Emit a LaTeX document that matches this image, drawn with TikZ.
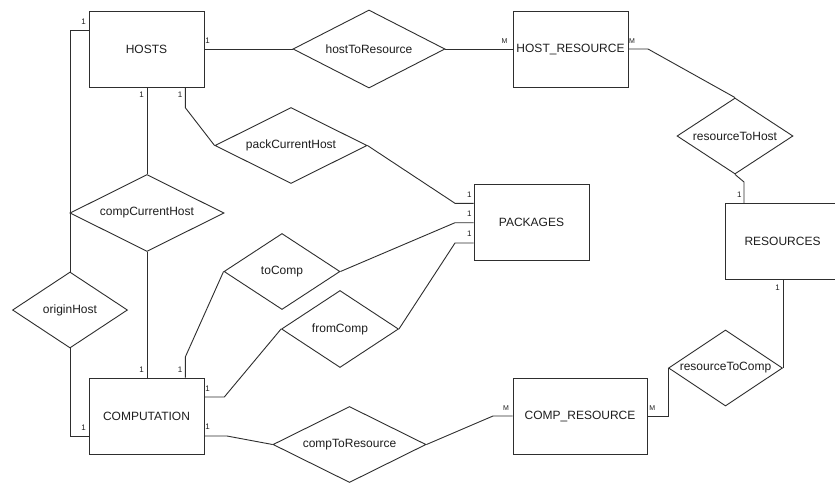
\documentclass[tikz,border=0pt]{standalone}
\usepackage{fontspec}
\setmainfont{Liberation Sans}
\usetikzlibrary{shapes.geometric}
\definecolor{linec}{HTML}{2E2E2E}
\definecolor{textc}{HTML}{1E1E1E}
\begin{document}
\begin{tikzpicture}[x=1pt,y=-1pt,
  ent/.style={draw=linec, line width=0.9pt, rectangle, inner sep=0pt, minimum width=115pt, minimum height=76pt, text=textc, font=\fontsize{12}{14}\selectfont},
  rel/.style={draw=linec, line width=0.9pt, diamond, inner sep=0pt, label={[text=textc, font=\fontsize{12}{14}\selectfont, inner sep=0pt]center:#1}},
  con/.style={draw=linec, line width=0.9pt},
  card/.style={font=\fontsize{8}{9}\selectfont, text=textc, inner sep=0pt},
  cardm/.style={font=\fontsize{7}{8}\selectfont, text=textc, inner sep=0pt}]
\path[use as bounding box, fill=white] (0,0) rectangle (835,483);
\clip (0,0) rectangle (835,483);

% entities
\node[ent] (hosts) at (146.5,49) {HOSTS};
\node[ent] (hr) at (570.5,49) {HOST\_RESOURCE};
\node[ent] (pack) at (531.5,222) {PACKAGES};
\node[ent] (res) at (782.5,241.5) {RESOURCES};
\node[ent] (comp) at (146.5,416) {COMPUTATION};
\node[ent, minimum width=134pt] (cr) at (580,416) {COMP\_RESOURCE};

% relationships
\node[rel=hostToResource, minimum width=152pt, minimum height=78pt] (htr) at (369,49) {};
\node[rel=resourceToHost, minimum width=116pt, minimum height=76pt] (rth) at (735,136) {};
\node[rel=resourceToComp, minimum width=114pt, minimum height=76pt] (rtc) at (725.5,368) {};
\node[rel=compToResource, minimum width=153pt, minimum height=76pt] (ctr) at (349.5,444.5) {};
\node[rel=fromComp, minimum width=117pt, minimum height=77pt] (fc) at (340,329) {};
\node[rel=toComp, minimum width=116pt, minimum height=76pt] (tc) at (282,271.5) {};
\node[rel=packCurrentHost, minimum width=152pt, minimum height=76pt] (pch) at (291,145.5) {};
\node[rel=compCurrentHost, minimum width=154pt, minimum height=77pt] (cch) at (147,213) {};
\node[rel=originHost, minimum width=115pt, minimum height=76pt] (oh) at (70,310) {};

% connectors
\draw[con] (hosts.east) -- (htr.west);
\draw[con] (htr.east) -- (hr.west);
\draw[con] (hr.east) -- (648,49) -- (rth.north);
\draw[con] (rth.south) -- (744,182) -- (744,0 |- res.north);
\draw[con] (rtc.east |- res.south) -- (rtc.east);
\draw[con] (rtc.west) -- (rtc.west |- cr.east) -- (cr.east);
\draw[con] (cr.west) -- (493,416) -- (ctr.east);
\draw[con] (ctr.west) -- (227,436) -- (comp.east |- 227,436);
\draw[con] (comp.east |- 0,397) -- (224.3,397) -- (fc.west);
\draw[con] (fc.east) -- (455,243) -- (pack.west |- 0,243);
\draw[con] (tc.east) -- (455,222.7) -- (pack.west |- 0,222.7);
\draw[con] (tc.west) -- (185.3,357) -- (185.3,0 |- comp.north);
\draw[con] (pch.east) -- (455,203.3) -- (pack.west |- 0,203.3);
\draw[con] (185.3,0 |- hosts.south) -- (185.3,107.7) -- (pch.west);
\draw[con] (cch.north |- hosts.south) -- (cch.north);
\draw[con] (cch.south) -- (cch.south |- comp.north);
\draw[con] (hosts.west |- 0,30) -- (70,30) -- (oh.north);
\draw[con] (oh.south) -- (70,436) -- (comp.west |- 0,436);

% cardinalities
\node[card] (k1) at (83.5,22) {1};
\node[card] (k2) at (207.7,41) {1};
\node[card] (k3) at (141.7,95) {1};
\node[card] (k4) at (180,95) {1};
\node[cardm] (k5) at (504.5,41.5) {M};
\node[cardm] (k6) at (632,41) {M};
\node[card] (k7) at (739.3,195) {1};
\node[card] (k8) at (777.7,287.5) {1};
\node[card] (k9) at (469.3,194.5) {1};
\node[card] (k10) at (469.3,214) {1};
\node[card] (k11) at (469.3,234) {1};
\node[card] (k12) at (141.7,369.3) {1};
\node[card] (k13) at (180,369.3) {1};
\node[card] (k14) at (207.7,388.3) {1};
\node[card] (k15) at (207.7,427) {1};
\node[card] (k16) at (83.5,427.3) {1};
\node[cardm] (k17) at (506,407.7) {M};
\node[cardm] (k18) at (652.3,407.7) {M};
\end{tikzpicture}
\end{document}
